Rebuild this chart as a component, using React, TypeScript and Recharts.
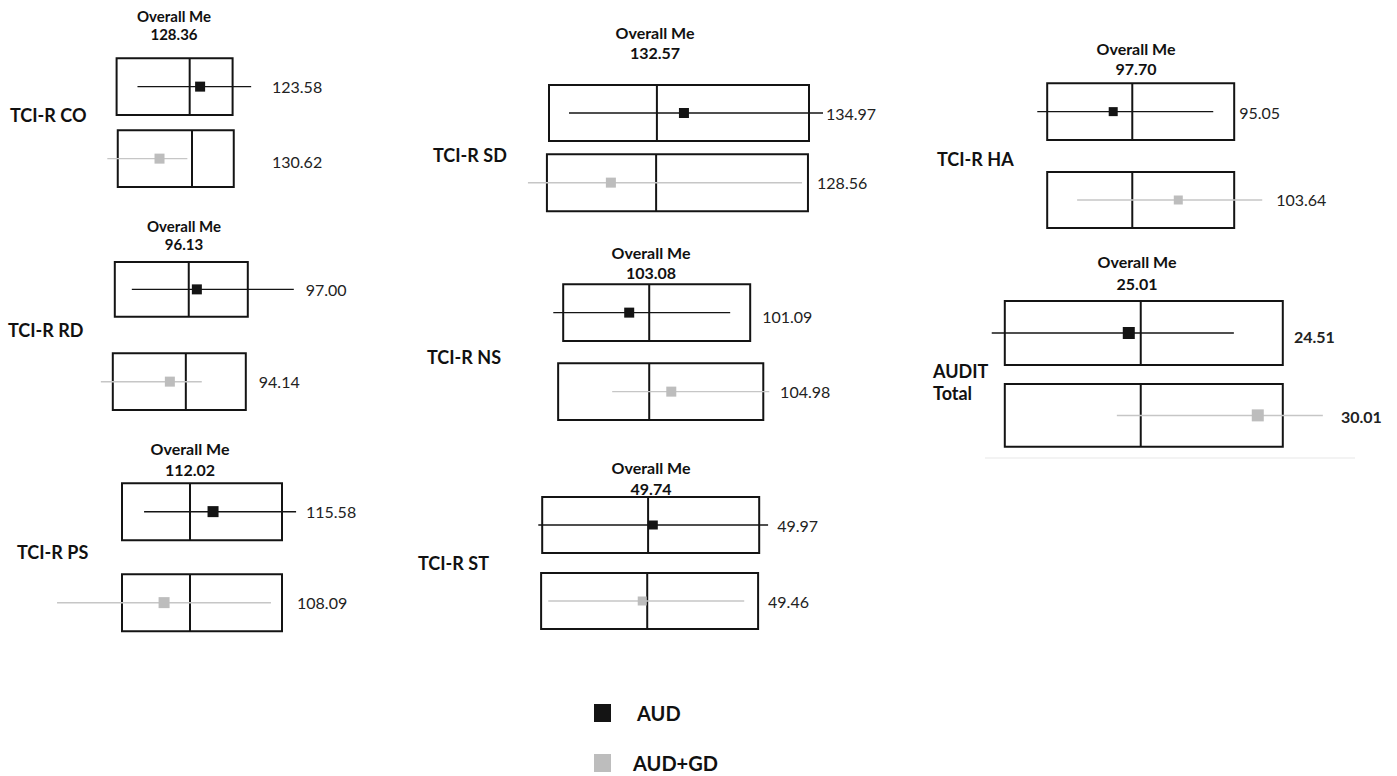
import React from 'react';
import { ComposedChart, XAxis, YAxis, ReferenceArea, ReferenceLine, ReferenceDot, Line, Scatter } from 'recharts';

// ---- data ----
const scaleLabels = ['TCI-R CO', 'TCI-R RD', 'TCI-R PS', 'TCI-R SD', 'TCI-R NS', 'TCI-R ST', 'TCI-R HA', 'AUDIT Total'];
const overallMean = ['128.36', '96.13', '112.02', '132.57', '103.08', '49.74', '97.70', '25.01'];
const audMean = ['123.58', '97.00', '115.58', '134.97', '101.09', '49.97', '95.05', '24.51'];
const audGdMean = ['130.62', '94.14', '108.09', '128.56', '104.98', '49.46', '103.64', '30.01'];
const groups = ['AUD', 'AUD+GD'];

// schematic horizontal positions, in % of the AUD box width (0 = its left edge)
const overallPosAud = [63, 55.6, 42.5, 41.5, 46, 48.8, 45.5, 48.9];
const overallPosGd = [65, 53.4, 42.5, 41.2, 46, 48.4, 45.5, 48.9];
const audPos = [72, 61.7, 56.9, 51.9, 35.3, 51.2, 35.3, 44.6];
const audCiLow = [18, 12.8, 13.8, 7.7, -5.3, -1.8, -5.3, -4.7];
const audCiHigh = [116, 134.6, 108.8, 105.4, 89.3, 104.1, 88.8, 82.4];
const gdPos = [37, 41.4, 26.3, 23.8, 57.8, 46.1, 70.1, 91];
const gdCiLow = [-8, -10.5, -40.6, -8.1, 26.2, 2.8, 16, 40.3];
const gdCiHigh = [61, 65.4, 93.1, 97.3, 110.2, 93.1, 115, 114.4];

// ---- layout ----
type PanelLayout = {
  left: number; width: number;
  rows: [number, number][];
  boxes: [number, number][];
  labelX: [number, number];
  labelDy: [number, number];
  title: [number, number, number];
  titleSize: number;
  name: [number, number];
  marker: number;
  boldLabels?: boolean;
};
const layout: PanelLayout[] = [
  { left: 117, width: 116, rows: [[86.5, 57], [158.5, 57]], boxes: [[0, 100], [1, 101]], labelX: [134, 134], labelDy: [0, 3], title: [174, 16, 34], titleSize: 15, name: [10, 115], marker: 10 },
  { left: 115, width: 133, rows: [[289.5, 55], [381.5, 57]], boxes: [[0, 100], [-1.5, 98.5]], labelX: [143.6, 108.3], labelDy: [0, 0], title: [184, 226, 244], titleSize: 15, name: [8, 330], marker: 10 },
  { left: 122, width: 160, rows: [[511.5, 57], [602.5, 57]], boxes: [[0, 100], [0, 100]], labelX: [115, 109.4], labelDy: [0, 0], title: [190, 448, 469], titleSize: 16, name: [17, 552], marker: 11 },
  { left: 549, width: 260, rows: [[113, 56], [182.5, 57]], boxes: [[0, 100], [-0.8, 99.6]], labelX: [106.5, 103.1], labelDy: [0, 0], title: [655, 32, 52], titleSize: 16, name: [433, 155], marker: 10 },
  { left: 563, width: 187, rows: [[312.5, 57], [391.5, 57]], boxes: [[0, 100], [-2.7, 107]], labelX: [106.4, 116], labelDy: [4, 0], title: [651, 252, 272], titleSize: 16, name: [427, 357], marker: 10 },
  { left: 542, width: 217, rows: [[525, 56], [601, 56]], boxes: [[0, 100], [-0.5, 99.5]], labelX: [108.3, 104.1], labelDy: [1, 1], title: [651, 467, 488], titleSize: 16, name: [418, 563], marker: 9 },
  { left: 1047, width: 187, rows: [[111.5, 57], [200, 56]], boxes: [[0, 100], [0, 100]], labelX: [102.7, 122.5], labelDy: [1, 0], title: [1136, 48, 68], titleSize: 16, name: [937, 159], marker: 9 },
  { left: 1005, width: 278, rows: [[333, 64], [415.5, 63]], boxes: [[0, 100], [0, 100]], labelX: [104, 120.9], labelDy: [4, 1], title: [1137, 261, 283], titleSize: 16, name: [933, 371], marker: 12, boldLabels: true },
];

const XMIN = -60;
const XMAX = 200;
const YPAD = 1.25;
const FONT = 'Lato, "Open Sans", sans-serif';
const INK = '#141414';
const GREY = '#bdbdbd';
const GREY_LINE = '#c6c6c6';

function BoxRow({ p, row }: { p: number; row: number }) {
  const L = layout[p];
  const [cy, h] = L.rows[row];
  const unit = L.width / 100;
  const cw = (XMAX - XMIN) * unit;
  const ch = h * YPAD;
  const left = L.left + XMIN * unit;
  const top = cy - ch / 2;
  const isAud = row === 0;
  const pos = isAud ? audPos[p] : gdPos[p];
  const lo = isAud ? audCiLow[p] : gdCiLow[p];
  const hi = isAud ? audCiHigh[p] : gdCiHigh[p];
  const div = isAud ? overallPosAud[p] : overallPosGd[p];
  const value = isAud ? audMean[p] : audGdMean[p];
  const color = isAud ? INK : GREY;
  const lineColor = isAud ? INK : GREY_LINE;
  const [bx1, bx2] = L.boxes[row];
  const s = L.marker;
  const dy = L.labelDy[row];
  return (
    <div style={{ position: 'absolute', left, top, width: cw, height: ch }}>
      <ComposedChart width={cw} height={ch} margin={{ top: 0, right: 0, bottom: 0, left: 0 }}>
        <XAxis type="number" dataKey="x" domain={[XMIN, XMAX]} hide allowDataOverflow />
        <YAxis type="number" dataKey="y" domain={[-YPAD, YPAD]} hide allowDataOverflow />
        <ReferenceArea x1={bx1} x2={bx2} y1={-1} y2={1} fill="none" fillOpacity={0} stroke={INK} strokeWidth={2} ifOverflow="visible" />
        <ReferenceLine segment={[{ x: div, y: -1 }, { x: div, y: 1 }]} stroke={INK} strokeWidth={2} ifOverflow="visible" />
        <Line data={[{ x: lo, y: 0 }, { x: hi, y: 0 }]} dataKey="y" type="linear" stroke={lineColor} strokeWidth={1.5} dot={false} activeDot={false} isAnimationActive={false} />
        <Scatter
          data={[{ x: pos, y: 0 }]}
          isAnimationActive={false}
          shape={(props: any) => (
            <rect x={props.cx - s / 2} y={props.cy - s / 2} width={s} height={s} fill={color} />
          )}
        />
        <ReferenceDot
          x={L.labelX[row]}
          y={0}
          r={1}
          ifOverflow="visible"
          shape={(props: any) => (
            <text
              x={props.cx}
              y={props.cy + dy}
              dominantBaseline="central"
              fontFamily={FONT}
              fontSize={16}
              fontWeight={L.boldLabels ? 700 : 400}
              fill="#222"
            >
              {value}
            </text>
          )}
        />
      </ComposedChart>
    </div>
  );
}

export default function App() {
  return (
    <div style={{ position: 'fixed', left: 0, top: 0, width: 1397, height: 776, overflow: 'hidden', background: '#fff' }}>
      <svg width={1397} height={776} style={{ position: 'absolute', left: 0, top: 0 }}>
        {layout.map((L, p) => (
          <g key={p} fontFamily={FONT} fill="#111">
            <text x={L.title[0]} y={L.title[1]} textAnchor="middle" dominantBaseline="central" fontSize={L.titleSize} fontWeight={700}>Overall Me</text>
            <text x={L.title[0]} y={L.title[2]} textAnchor="middle" dominantBaseline="central" fontSize={L.titleSize} fontWeight={700}>{overallMean[p]}</text>
            {scaleLabels[p].startsWith('AUDIT') ? (
              scaleLabels[p].split(' ').map((w, i) => (
                <text key={i} x={L.name[0]} y={L.name[1] + i * 22} dominantBaseline="central" fontSize={18} fontWeight={700}>{w}</text>
              ))
            ) : (
              <text x={L.name[0]} y={L.name[1]} dominantBaseline="central" fontSize={18} fontWeight={700}>{scaleLabels[p]}</text>
            )}
          </g>
        ))}
        <line x1={985} x2={1355} y1={458} y2={458} stroke="#efefef" strokeWidth={1.5} />
        {groups.map((g, i) => (
          <g key={g} fontFamily={FONT}>
            <rect x={594} y={704 + i * 50} width={17} height={18} fill={i === 0 ? INK : GREY} />
            <text x={i === 0 ? 637 : 633} y={713 + i * 50} dominantBaseline="central" fontSize={20} fontWeight={700} fill="#111">{g}</text>
          </g>
        ))}
      </svg>
      {layout.map((_, p) => (
        <React.Fragment key={p}>
          <BoxRow p={p} row={0} />
          <BoxRow p={p} row={1} />
        </React.Fragment>
      ))}
    </div>
  );
}
